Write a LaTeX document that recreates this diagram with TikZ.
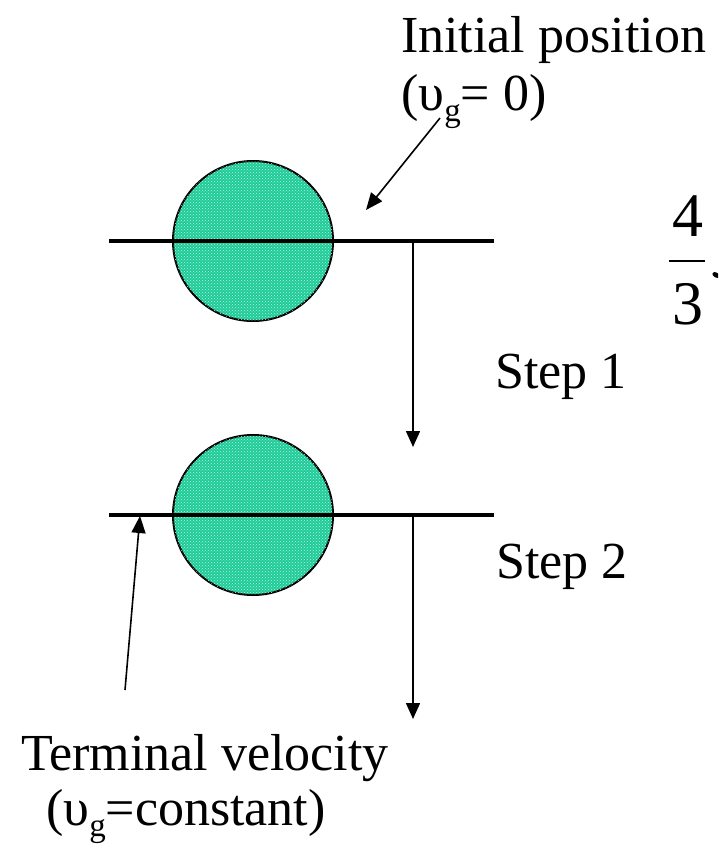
\documentclass[tikz,border=0pt]{standalone}
\usepackage{fontspec}
\setmainfont{Liberation Serif}
\usetikzlibrary{patterns,arrows.meta}
\definecolor{ballgreen}{RGB}{30,204,152}
\newcommand{\subg}{\raisebox{-0.22em}{\fontsize{33}{33}\selectfont g}}
\begin{document}
\begin{tikzpicture}[x=1pt,y=-1pt,
  lbl/.style={inner sep=0pt, anchor=base west, font=\fontsize{52}{60}\selectfont},
  frac/.style={inner sep=0pt, font=\fontsize{62}{64}\selectfont},
  ball/.style={circle, minimum size=160pt, draw=black, line width=2pt, fill=ballgreen, inner sep=0pt,
    postaction={pattern=crosshatch dots, pattern color=white!70!ballgreen}},
  level/.style={line width=3.2pt},
  fall/.style={line width=1.6pt, -{Triangle[length=16pt,width=14pt]}},
  pointer/.style={line width=1.6pt, -{Triangle[length=17pt,width=14pt]}}]
\useasboundingbox (0,0) rectangle (718,849);
\clip (0,0) rectangle (718,849);

% balls
\node[ball] (b1) at (253,241) {};
\node[ball] (b2) at (253,515) {};

% level lines
\coordinate (l1a) at (109,241);
\coordinate (l1b) at (494,241);
\coordinate (l2a) at (109,515);
\coordinate (l2b) at (494,515);
\draw[level] (l1a) -- (l1b);
\draw[level] (l2a) -- (l2b);

% fall arrows
\coordinate (f1s) at (413,241);
\coordinate (f1e) at (413,447);
\coordinate (f2s) at (413,515);
\coordinate (f2e) at (413,719);
\draw[fall] (f1s) -- (f1e);
\draw[fall] (f2s) -- (f2e);

% labels
\node[lbl] (init) at (401,52) {Initial position};
\node[lbl] (init2) at (401,110) {(υ\subg= 0)};
\node[lbl] (s1) at (495,388) {Step 1};
\node[lbl] (s2) at (496,578) {Step 2};
\node[lbl] (term) at (21,770) {Terminal velocity};
\node[lbl] (term2) at (46,825) {(υ\subg=constant)};

% pointers
\coordinate (p1s) at (440,118);
\coordinate (p1e) at (366,210);
\draw[pointer] (p1s) -- (p1e);
\coordinate (p2s) at (125,690);
\coordinate (p2e) at (140,516);
\draw[pointer] (p2s) -- (p2e);

% fraction
\node[frac] (four) at (688,216) {4};
\coordinate (fba) at (669,261);
\coordinate (fbb) at (705,261);
\draw[line width=2.2pt] (fba) -- (fbb);
\node[frac] (three) at (688,304) {3};
\fill[rotate around={-30:(716,275)}] (716,275) ellipse (4pt and 2.5pt);
\end{tikzpicture}
\end{document}
